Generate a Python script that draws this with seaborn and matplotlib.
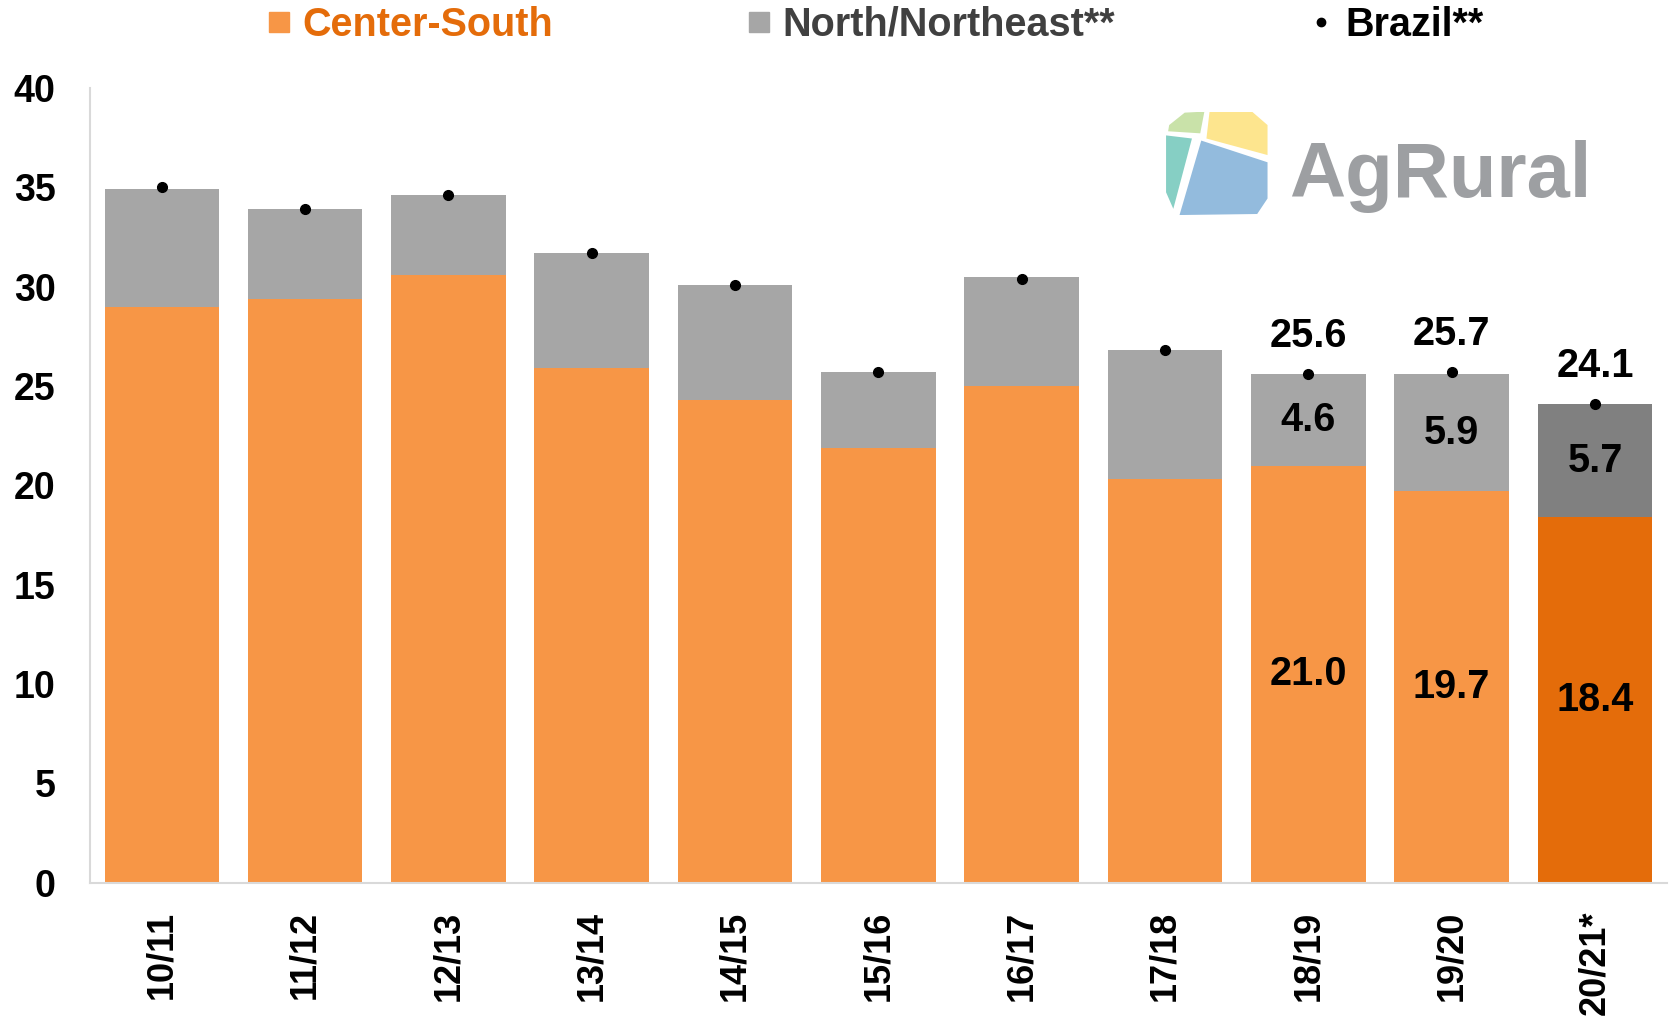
import numpy as np
import matplotlib
matplotlib.use("Agg")
import matplotlib.pyplot as plt
from matplotlib.lines import Line2D
from matplotlib.patches import Polygon
from matplotlib.ticker import FixedLocator
import seaborn as sns

# crop seasons and area (million ha)
seasons = ["10/11", "11/12", "12/13", "13/14", "14/15", "15/16",
           "16/17", "17/18", "18/19", "19/20", "20/21*"]
center_south = [29.0, 29.4, 30.6, 25.9, 24.3, 21.9, 25.0, 20.3, 21.0, 19.7, 18.4]
north_northeast = [5.9, 4.5, 4.0, 5.8, 5.8, 3.8, 5.5, 6.5, 4.6, 5.9, 5.7]
brazil = [35.0, 33.9, 34.6, 31.7, 30.1, 25.7, 30.4, 26.8, 25.6, 25.7, 24.1]
labelled = ["18/19", "19/20", "20/21*"]

orange = "#F79646"
orange_dark = "#E46C0A"
gray = "#A6A6A6"
gray_dark = "#808080"
axis_col = "#D9D9D9"

sns.set_style("white")
plt.rcParams["font.family"] = ["Liberation Sans", "DejaVu Sans"]
plt.rcParams["font.weight"] = "bold"
plt.rcParams["text.color"] = "black"
plt.rcParams["xtick.labelcolor"] = "black"
plt.rcParams["ytick.labelcolor"] = "black"

totals = [c + n for c, n in zip(center_south, north_northeast)]
cs_colors = [orange] * (len(seasons) - 1) + [orange_dark]
nne_colors = [gray] * (len(seasons) - 1) + [gray_dark]

fig = plt.figure(figsize=(16.7, 10.24), dpi=100)
ax = fig.add_axes([0.054, 0.138, 0.944, 0.776])

# stacked bars: total (gray) behind, center-south (orange) in front
sns.barplot(x=seasons, y=totals, hue=seasons, palette=nne_colors, legend=False,
            width=0.8, saturation=1, linewidth=0, ax=ax)
sns.barplot(x=seasons, y=center_south, hue=seasons, palette=cs_colors, legend=False,
            width=0.8, saturation=1, linewidth=0, ax=ax)
ax.plot(range(len(seasons)), brazil, "o", color="black", markersize=7, zorder=5)

# value labels for the last seasons
for i, s in enumerate(seasons):
    if s not in labelled:
        continue
    cs, nne, br = center_south[i], north_northeast[i], brazil[i]
    ax.text(i, cs / 2, f"{cs:.1f}", ha="center", va="center", fontsize=28.5, fontweight="bold")
    ax.text(i, cs + nne / 2, f"{nne:.1f}", ha="center", va="center", fontsize=28.5, fontweight="bold")
    ax.text(i, br + 1.9, f"{br:.1f}", ha="center", va="center", fontsize=28.5, fontweight="bold")

ax.set_ylim(0, 40)
ax.set_xlim(-0.5, len(seasons) - 0.5)
ax.set_yticks(range(0, 41, 5))
ax.set_xlabel("")
ax.set_ylabel("")
ax.set_xticks(range(len(seasons)))
ax.set_xticklabels(seasons, rotation=90, fontsize=26, fontweight="bold")
ax.xaxis.set_minor_locator(FixedLocator(np.arange(-0.5, len(seasons), 1.0)))
ax.tick_params(axis="x", which="major", length=0, pad=20)
ax.tick_params(axis="x", which="minor", length=9, width=1.3, color=axis_col)
ax.tick_params(axis="y", length=5, width=1.3, color=axis_col, labelsize=27, pad=20)
for lab in ax.get_yticklabels():
    lab.set_fontweight("bold")

for side in ["top", "right"]:
    ax.spines[side].set_visible(False)
for side in ["left", "bottom"]:
    ax.spines[side].set_color(axis_col)
    ax.spines[side].set_linewidth(1.5)

# legend on top
handles = [
    Line2D([], [], marker="s", linestyle="", color=orange, markersize=14),
    Line2D([], [], marker="s", linestyle="", color=gray, markersize=14),
    Line2D([], [], marker="o", linestyle="", color="black", markersize=6),
]
names = ["Center-South", "North/Northeast**", "Brazil**"]
leg = fig.legend(handles, names, loc="center", bbox_to_anchor=(0.524, 0.976), ncol=3,
                 frameon=False, prop={"size": 28.5, "weight": "bold"},
                 handlelength=0.6, handletextpad=0.3, columnspacing=4.9)
for txt, col in zip(leg.get_texts(), [orange_dark, "#404040", "black"]):
    txt.set_color(col)

# AgRural logo
logo = fig.add_axes([0.697, 0.790, 0.062, 0.101])
logo.set_xlim(0, 1)
logo.set_ylim(0, 1)
logo.axis("off")
shapes = [
    ("#C9E2A9", [(0.05, 0.87), (0.2, 0.99), (0.39, 1.0), (0.35, 0.79), (0.04, 0.81)]),
    ("#FDE58E", [(0.44, 1.0), (0.85, 1.0), (1.0, 0.87), (1.0, 0.58), (0.41, 0.74)]),
    ("#86CFC4", [(0.02, 0.77), (0.27, 0.74), (0.09, 0.06), (0.02, 0.22)]),
    ("#93BBDD", [(0.36, 0.72), (1.0, 0.51), (1.0, 0.16), (0.9, 0.01), (0.15, 0.0)]),
]
for col, pts in shapes:
    logo.add_patch(Polygon(pts, closed=True, facecolor=col, edgecolor="none"))
fig.text(0.772, 0.8075, "AgRural", fontsize=56, fontweight="bold", color="#9D9FA2",
         ha="left", va="baseline")

fig.savefig("out.png", dpi=100)
